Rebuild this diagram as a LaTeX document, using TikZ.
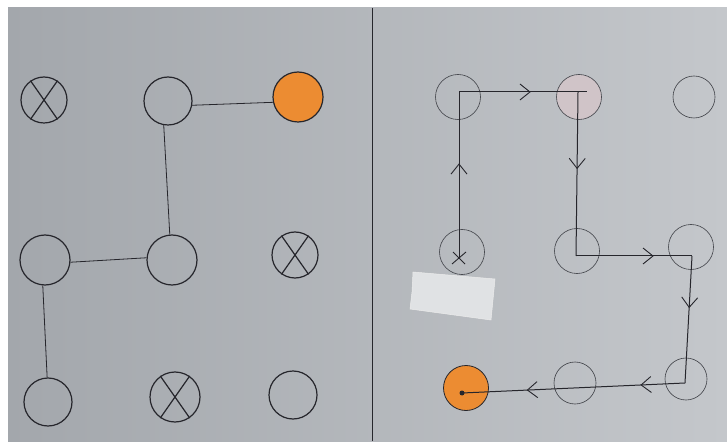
\documentclass[tikz,border=0pt]{standalone}
\usetikzlibrary{arrows.meta,decorations.markings,calc}
\definecolor{paperL}{RGB}{163,167,172}
\definecolor{paperR}{RGB}{196,199,203}
\definecolor{ink}{RGB}{38,38,44}
\definecolor{pencil}{RGB}{62,64,70}
\definecolor{orng}{RGB}{236,140,50}
\definecolor{pinkish}{RGB}{208,196,200}
\definecolor{tape}{RGB}{224,226,228}
\begin{document}
\begin{tikzpicture}[x=1pt,y=-1pt,
  lcirc/.style={circle,draw=ink,line width=1.2pt,inner sep=0pt,minimum size=48pt},
  rcirc/.style={circle,draw=pencil,line width=0.6pt,inner sep=0pt,minimum size=45pt},
  wire/.style={draw=ink,line width=0.8pt},
  pathline/.style={draw=ink,line width=1pt},
  chev/.style={postaction={decorate,decoration={markings,
     mark=at position #1 with {\arrow{Straight Barb[length=10pt,width=16pt,line width=0.9pt]}}}}}
]
\useasboundingbox (0,0) rectangle (727,443);
\fill[white] (0,0) rectangle (727,443);
\shade[left color=paperL,right color=paperR] (8,8) rectangle (727,441);
% divider
\draw[ink,line width=0.8pt] (372,8) -- (372,441);

% ---------- left grid ----------
\node[lcirc,minimum size=46pt] (L11) at (44,100) {};
\node[lcirc] (L12) at (168,101) {};
\node[lcirc,fill=orng,minimum size=50pt] (L13) at (298,97) {};
\node[lcirc,minimum size=50pt] (L21) at (45,260) {};
\node[lcirc,minimum size=50pt] (L22) at (172,260) {};
\node[lcirc,minimum size=46pt] (L23) at (295,255) {};
\node[lcirc] (L31) at (48,402) {};
\node[lcirc,minimum size=50pt] (L32) at (175,397) {};
\node[lcirc] (L33) at (293,395) {};
% crosses
\foreach \n in {L11,L23,L32}{
  \draw[ink,line width=1.2pt] (\n.125) -- (\n.-55);
  \draw[ink,line width=1.2pt] (\n.55) -- (\n.235);
}
% connections
\draw[wire] (L12.-10) -- (L13.192);
\draw[wire] (L12.-100) -- (L22.95);
\draw[wire] (L21.-5) -- (L22.175);
\draw[wire] (L21.-95) -- (L31.92);

% ---------- right grid ----------
\node[rcirc] (R11) at (458,97) {};
\node[rcirc,fill=pinkish] (R12) at (579,97) {};
\node[rcirc,minimum size=42pt] (R13) at (694,97) {};
\node[rcirc] (R21) at (462,252) {};
\node[rcirc] (R22) at (577,251) {};
\node[rcirc] (R23) at (691,247) {};
\node[rcirc,fill=orng,draw=ink,line width=0.8pt] (R31) at (466,388) {};
\node[rcirc,minimum size=42pt] (R32) at (575,383) {};
\node[rcirc,minimum size=42pt] (R33) at (686,379) {};

% tape
\fill[tape,draw=white!85!gray,line width=0.5pt] (413,272) -- (495,279) -- (491,320) -- (410,309) -- (412,292) -- cycle;

% path corners
\coordinate (p1) at (459,258);
\coordinate (p2) at (459,92);
\coordinate (p3) at (587,92);
\coordinate (p4) at (578,92);
\coordinate (p5) at (576,256);
\coordinate (p6) at (692,256);
\coordinate (p7) at (685,383);
\coordinate (p8) at (462,393);

\draw[pathline,chev=0.57] (p1) -- (p2);
\draw[pathline,chev=0.56] (p2) -- (p3);
\draw[pathline,chev=0.47] (p4) -- (p5);
\draw[pathline,chev=0.67] (p5) -- (p6);
\draw[pathline,chev=0.41] (p6) -- (p7);
\draw[pathline,chev=0.2,chev=0.71] (p7) -- (p8);
% start cross and end dot
\draw[ink,line width=0.9pt] ($(p1)+(-7,6)$) -- ($(p1)+(7,-6)$);
\draw[ink,line width=0.9pt] ($(p1)+(-6,-6)$) -- ($(p1)+(6,6)$);
\fill[ink] (p8) circle (2.5pt);
\end{tikzpicture}
\end{document}
